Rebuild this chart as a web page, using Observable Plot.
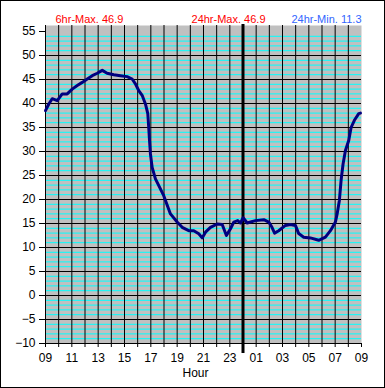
<!DOCTYPE html>
<html>
<head>
<meta charset="utf-8">
<script src="https://cdn.jsdelivr.net/npm/d3@7"></script>
<script src="https://cdn.jsdelivr.net/npm/@observablehq/plot@0.6"></script>
<style>
  html, body { margin: 0; padding: 0; background: #fff; }
  #wrap { position: relative; width: 385px; height: 388px; overflow: hidden; }
  #border { position: absolute; left: 0; top: 0; width: 385px; height: 388px; box-sizing: border-box; border: 1px solid #000; pointer-events: none; }
  svg { display: block; }
</style>
</head>
<body>
<div id="wrap"><div id="border"></div></div>
<script>
// hours since 09:00
const hours = [0,0.25,0.51,0.89,1.27,1.65,2.03,2.41,2.79,3.17,3.55,3.93,4.31,4.68,5.19,5.69,6.2,6.58,6.83,7.08,7.34,7.59,7.77,7.84,7.9,7.97,8.1,8.35,8.98,9.49,10.0,10.38,10.88,11.26,11.64,11.9,12.15,12.53,13.04,13.42,13.74,14.05,14.3,14.6,14.81,15.01,15.32,15.57,15.95,16.58,16.96,17.2,17.4,17.71,18.22,18.6,18.98,19.23,19.61,20.12,20.75,21.26,21.64,22.02,22.15,22.32,22.45,22.6,22.78,23.03,23.21,23.46,23.79,23.92];
const temps = [38.5,39.9,41,40.6,42,42,43,43.75,44.4,45.1,45.8,46.3,46.9,46.3,46,45.8,45.6,45.1,44.1,42.7,41.7,39.9,37.9,35,32.3,29.5,26.7,24.3,20.8,17,15.3,14.2,13.5,13.5,12.85,12,13.2,14.2,14.9,14.8,12.5,13.9,15.3,15.6,15.1,16.2,15.1,15.3,15.6,15.8,15.3,14.2,13.0,13.5,14.6,14.8,14.6,12.9,12.15,12,11.5,12.15,13.5,15.3,17,19.8,24,27.4,30.2,32.3,35,36.5,37.9,38];
const yMajor = [-10,-5,0,5,10,15,20,25,30,35,40,45,50,55];
const xTicks = [0,1,2,3,4,5,6,7,8,9,10,11,12,13,14,15,16,17,18,19,20,21,22,23,24];
const startHour = 9;
const midnight = [15];
const titles = ["6hr-Max. 46.9", "24hr-Max. 46.9", "24hr-Min. 11.3"];

const data = hours.map((h, i) => ({h, t: temps[i]}));
const yMinor = d3.range(-10, 56, 1).filter(v => v % 5 !== 0);
const yMajorLines = yMajor.filter(v => v < 55);
const fmtHour = h => h % 2 === 0 ? String((startHour + h) % 24).padStart(2, "0") : "";

const chart = Plot.plot({
  width: 385,
  height: 388,
  marginLeft: 45,
  marginRight: 24,
  marginTop: 25,
  marginBottom: 45,
  style: {fontFamily: "'Liberation Sans', Arial, sans-serif", fontSize: "11px", background: "transparent", color: "#000"},
  x: {domain: [0, 24]},
  y: {domain: [-10, 56.25]},
  marks: [
    Plot.frame({fill: "#c0c0c0", stroke: null}),
    Plot.ruleY(yMinor, {stroke: "#00ffff", strokeWidth: 1}),
    Plot.ruleY(yMajorLines, {stroke: "#000", strokeWidth: 1}),
    Plot.ruleX(xTicks.filter(h => h < 24), {stroke: "#000", strokeWidth: 1}),
    Plot.ruleX(midnight, {stroke: "#000", strokeWidth: 3, insetTop: -1, insetBottom: -10}),
    Plot.axisY({ticks: yMajor, tickSize: 6, tickPadding: 4, label: null, fontSize: 12}),
    Plot.axisX({ticks: xTicks, tickFormat: fmtHour, tickSize: 4, tickPadding: 6, label: null, fontSize: 12}),
    Plot.text(["Hour"], {frameAnchor: "bottom", dx: -8, dy: 33, fontSize: 12, textAnchor: "middle"}),
    Plot.text([titles[0]], {frameAnchor: "top-left", dx: 10, dy: -10, fill: "#ff0000", textAnchor: "start"}),
    Plot.text([titles[1]], {frameAnchor: "top", dx: 25, dy: -10, fill: "#ff0000", textAnchor: "middle"}),
    Plot.text([titles[2]], {frameAnchor: "top-right", dx: 0, dy: -10, fill: "#3366ff", textAnchor: "end"}),
    Plot.line(data, {x: "h", y: "t", stroke: "#000080", strokeWidth: 3}),
    Plot.dot(data, {x: "h", y: "t", symbol: "plus", r: 3, fill: "#000080", stroke: null})
  ]
});
document.getElementById("wrap").prepend(chart);
</script>
</body>
</html>
